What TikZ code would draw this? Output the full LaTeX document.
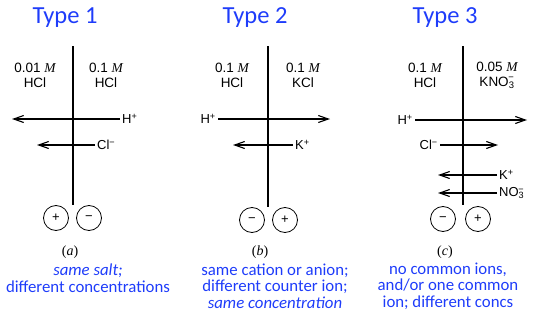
\documentclass[tikz,border=0pt]{standalone}
\usepackage{fontspec}
\setmainfont{Liberation Serif}
\newfontfamily\calib{Carlito}
\newfontfamily\arial{Liberation Sans}
\usetikzlibrary{arrows.meta}
\definecolor{tblue}{RGB}{30,60,250}
\newcommand{\molar}{{\rmfamily\itshape M}}
\begin{document}
\begin{tikzpicture}[x=1pt,y=-1pt,
  title/.style={font=\calib\fontsize{24.5}{26}\selectfont, text=tblue},
  note/.style={font=\calib\fontsize{16.8}{16.7}\selectfont, text=tblue, align=center},
  conc/.style={font=\arial\fontsize{13.5}{15}\selectfont, align=center},
  ion/.style={font=\arial\fontsize{13}{14}\selectfont, inner sep=2pt},
  membrane/.style={line width=1.4pt},
  arr/.style={line width=1.5pt, -{Straight Barb[length=10pt,width=7pt,line width=1.1pt]}},
  charge/.style={circle, draw, line width=0.8pt, minimum size=25pt, inner sep=0pt, font=\arial\fontsize{13}{13}\selectfont},
  caption/.style={font=\fontsize{14}{16}\selectfont}]
\useasboundingbox (0,0) rectangle (542,324);

% ---------- Type 1 ----------
\node[title] (t1) at (65,18) {Type 1};
\coordinate (a-top) at (73,46);
\coordinate (a-bot) at (73,205);
\draw[membrane] (a-top) -- (a-bot);
\node[conc] (a-l) at (35,75) {0.01 \molar\\HCl};
\node[conc] (a-r) at (106,75) {0.1 \molar\\HCl};
\node[ion, anchor=west] (a-h) at (120,119) {H\textsuperscript{+}};
\coordinate (a-h-tip) at (12,119);
\draw[arr] (a-h.west) -- (a-h-tip);
\node[ion, anchor=west] (a-cl) at (95,145) {Cl\textsuperscript{−}};
\coordinate (a-cl-tip) at (37,145);
\draw[arr] (a-cl.west) -- (a-cl-tip);
\node[charge] (a-p) at (56,218) {+};
\node[charge] (a-m) at (89,218) {−};
\node[caption] (a-cap) at (70,252) {(\textit{a})};
\node[note] (a-note) at (88,278) {\itshape same salt;\\different concentrations};

% ---------- Type 2 ----------
\node[title] (t2) at (255,18) {Type 2};
\coordinate (b-top) at (268,46);
\coordinate (b-bot) at (268,207);
\draw[membrane] (b-top) -- (b-bot);
\node[conc] (b-l) at (232,75) {0.1 \molar\\HCl};
\node[conc] (b-r) at (303,75) {0.1 \molar\\KCl};
\node[ion, anchor=east] (b-h) at (218,119) {H\textsuperscript{+}};
\coordinate (b-h-tip) at (330,119);
\draw[arr] (b-h.east) -- (b-h-tip);
\node[ion, anchor=west] (b-k) at (293,145) {K\textsuperscript{+}};
\coordinate (b-k-tip) at (233,145);
\draw[arr] (b-k.west) -- (b-k-tip);
\node[charge] (b-m) at (252,220) {−};
\node[charge] (b-p) at (285,220) {+};
\node[caption] (b-cap) at (260,252) {(\textit{b})};
\node[note] (b-note) at (275,286) {same cation or anion;\\different counter ion;\\\itshape same concentration};

% ---------- Type 3 ----------
\node[title] (t3) at (445,18) {Type 3};
\coordinate (c-top) at (463,46);
\coordinate (c-bot) at (463,205);
\draw[membrane] (c-top) -- (c-bot);
\node[conc] (c-l) at (425,75) {0.1 \molar\\HCl};
\node[conc] (c-r) at (497,75) {0.05 \molar\\KNO\textsubscript{3}\llap{\textsuperscript{−}}};
\node[ion, anchor=east] (c-h) at (415,120) {H\textsuperscript{+}};
\coordinate (c-h-tip) at (527,120);
\draw[arr] (c-h.east) -- (c-h-tip);
\node[ion, anchor=east] (c-cl) at (440,145) {Cl\textsuperscript{−}};
\coordinate (c-cl-tip) at (498,145);
\draw[arr] (c-cl.east) -- (c-cl-tip);
\node[ion, anchor=west] (c-k) at (497,175) {K\textsuperscript{+}};
\coordinate (c-k-tip) at (438,175);
\draw[arr] (c-k.west) -- (c-k-tip);
\node[ion, anchor=west] (c-no) at (497,193) {NO\textsubscript{3}\llap{\textsuperscript{−}}};
\coordinate (c-no-tip) at (438,193);
\draw[arr] (c-no.west) -- (c-no-tip);
\node[charge] (c-m) at (443,219) {−};
\node[charge] (c-p) at (478,219) {+};
\node[caption] (c-cap) at (445,252) {(\textit{c})};
\node[note] (c-note) at (448,286) {no common ions,\\and/or one common\\ion; different concs};
\end{tikzpicture}
\end{document}
